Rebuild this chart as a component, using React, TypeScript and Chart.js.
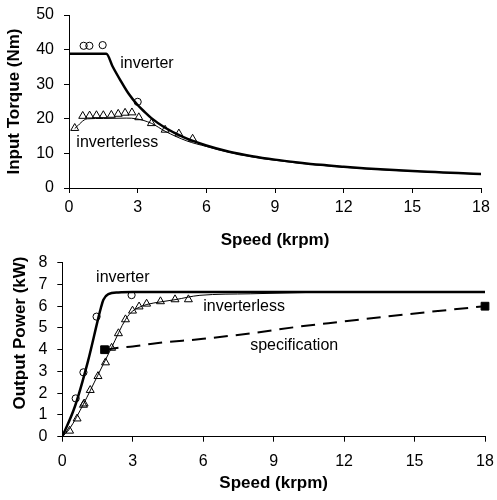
import React, { useEffect, useRef } from 'react';
import { Chart, registerables } from 'chart.js';
Chart.register(...registerables);

const FONT = "'Liberation Sans', Arial, sans-serif";
Chart.defaults.font.family = FONT;
Chart.defaults.color = '#000';

// ---------- Top chart: input torque ----------
const torqueInvSpeed = [0, 1.63, 1.9, 2.24, 2.6, 2.97, 3.3, 3.6, 4.2, 5.0, 6, 7, 8, 9, 10, 11, 12, 13, 14, 15, 16, 17, 18];
const torqueInv = [38.8, 38.8, 35.2, 31.2, 27.3, 24.2, 22.0, 20.2, 17.4, 14.7, 12.3, 10.5, 9.2, 8.2, 7.4, 6.7, 6.15, 5.65, 5.25, 4.9, 4.6, 4.3, 4.05];
const torqueLessSpeed = [0.25, 0.8, 1.5, 2.5, 2.95, 3.6, 4.2, 5.15, 6, 7, 8, 9, 10, 12, 14, 16, 18];
const torqueLess = [17.2, 20.0, 20.1, 20.2, 20.0, 18.7, 16.4, 13.6, 12.0, 10.3, 9.0, 8.0, 7.2, 6.0, 5.15, 4.55, 4.0];
const torqueInvMeasSpeed = [0.64, 0.89, 1.47, 3.0];
const torqueInvMeas = [41.1, 41.1, 41.3, 24.9];
const torqueLessMeasSpeed = [0.25, 0.6, 0.9, 1.2, 1.5, 1.85, 2.15, 2.45, 2.75, 3.05, 3.6, 4.2, 4.8, 5.4];
const torqueLessMeas = [17.3, 20.8, 20.9, 21.0, 21.0, 21.1, 21.4, 21.7, 21.8, 20.4, 18.7, 16.8, 15.7, 14.2];

// ---------- Bottom chart: output power ----------
const powerInvSpeed = [0, 0.54, 1.1, 1.53, 1.65, 1.75, 1.96, 2.39, 3.0, 18];
const powerInv = [0, 1.4, 3.5, 5.44, 5.95, 6.3, 6.55, 6.63, 6.65, 6.65];
const powerLessSpeed = [0, 0.3, 0.9, 1.5, 2.1, 2.7, 3.0, 3.3, 3.6, 4.2, 4.8, 5.86, 8, 10, 11.5, 18];
const powerLess = [0, 0.35, 1.5, 2.8, 4.1, 5.4, 5.78, 5.96, 6.08, 6.2, 6.3, 6.5, 6.57, 6.62, 6.65, 6.65];
const powerInvMeasSpeed = [0.57, 0.9, 1.46, 2.95];
const powerInvMeas = [1.76, 2.96, 5.52, 6.51];
const powerLessMeasSpeed = [0.31, 0.63, 0.9, 0.93, 1.19, 1.52, 1.84, 2.1, 2.39, 2.69, 2.99, 3.27, 3.59, 4.18, 4.8, 5.37];
const powerLessMeas = [0.27, 0.83, 1.46, 1.52, 2.14, 2.78, 3.41, 4.08, 4.75, 5.39, 5.79, 5.98, 6.11, 6.22, 6.31, 6.31];
const specSpeed = [1.8, 2.5, 3.0, 4.0, 6.0, 8.0, 10, 12, 14, 16, 18];
const specPower = [4.0, 4.1, 4.15, 4.3, 4.5, 4.75, 5.05, 5.3, 5.55, 5.78, 6.0];
const specMarkSpeed = [1.8, 18];
const specMark = [4.0, 6.0];

const xTicks = [0, 3, 6, 9, 12, 15, 18];
const torqueTicks = [0, 10, 20, 30, 40, 50];
const powerTicks = [0, 1, 2, 3, 4, 5, 6, 7, 8];

const topLabels = [
  { text: 'inverter', x: 2.24, y: 36.1 },
  { text: 'inverterless', x: 0.32, y: 13.0 },
];
const bottomLabels = [
  { text: 'inverter', x: 1.44, y: 7.3 },
  { text: 'inverterless', x: 6.0, y: 5.96 },
  { text: 'specification', x: 8.0, y: 4.17 },
];

function pts(xs: number[], ys: number[]) {
  return xs.map((x, i) => ({ x, y: ys[i] }));
}

function lineDs(xs: number[], ys: number[], width: number, dash: number[] = []) {
  return {
    data: pts(xs, ys),
    showLine: true,
    borderColor: '#000',
    borderWidth: width,
    borderDash: dash,
    pointRadius: 0,
    pointHoverRadius: 0,
    tension: 0,
    cubicInterpolationMode: 'monotone',
    fill: false,
  };
}

function markDs(xs: number[], ys: number[], style: string, radius: number, filled: boolean) {
  return {
    data: pts(xs, ys),
    showLine: false,
    pointStyle: style,
    pointRadius: radius,
    pointHoverRadius: radius,
    pointBorderColor: '#000',
    pointBackgroundColor: filled ? '#000' : 'rgba(0,0,0,0)',
    pointBorderWidth: 1,
    borderColor: '#000',
    backgroundColor: filled ? '#000' : 'rgba(0,0,0,0)',
    clip: false,
  };
}

function makeLabelPlugin(items: { text: string; x: number; y: number }[], yTitle?: { text: string; cx: number; cy: number }) {
  return {
    id: 'textLabels',
    afterDatasetsDraw(chart: any) {
      const { ctx, scales } = chart;
      ctx.save();
      ctx.fillStyle = '#000';
      ctx.font = `16px ${FONT}`;
      ctx.textBaseline = 'middle';
      ctx.textAlign = 'left';
      items.forEach((it) => {
        ctx.fillText(it.text, scales.x.getPixelForValue(it.x), scales.y.getPixelForValue(it.y));
      });
      if (yTitle) {
        ctx.translate(yTitle.cx, yTitle.cy);
        ctx.rotate(-Math.PI / 2);
        ctx.font = `bold 17px ${FONT}`;
        ctx.textAlign = 'center';
        ctx.fillText(yTitle.text, 0, 0);
      }
      ctx.restore();
    },
  };
}

function zeroPad(s: any) {
  s.paddingLeft = 0;
  s.paddingRight = 0;
  s.paddingTop = 0;
  s.paddingBottom = 0;
}

function xScale(tickPad: number, height: number, titlePadBottom: number) {
  return {
    type: 'linear',
    min: 0,
    max: 18,
    afterBuildTicks: (s: any) => { s.ticks = xTicks.map((v) => ({ value: v })); },
    ticks: { font: { size: 16, family: FONT }, color: '#000', padding: tickPad, maxRotation: 0, autoSkip: false },
    grid: { drawOnChartArea: false, drawTicks: true, tickLength: 5, color: '#000', lineWidth: 1 },
    border: { color: '#000', width: 1 },
    title: { display: true, text: 'Speed (krpm)', font: { size: 17, weight: 'bold', family: FONT }, color: '#000', padding: { top: 0, bottom: titlePadBottom } },
    afterFit: (s: any) => { s.height = height; zeroPad(s); },
  };
}

function yScale(max: number, ticks: number[], width: number, title: any) {
  return {
    type: 'linear',
    min: 0,
    max,
    afterBuildTicks: (s: any) => { s.ticks = ticks.map((v) => ({ value: v })); },
    ticks: { font: { size: 16, family: FONT }, color: '#000', padding: 10, autoSkip: false },
    grid: { drawOnChartArea: false, drawTicks: true, tickLength: 5, color: '#000', lineWidth: 1 },
    border: { color: '#000', width: 1 },
    title,
    afterFit: (s: any) => { s.width = width; zeroPad(s); },
  };
}

function topConfig(): any {
  return {
    type: 'scatter',
    data: {
      datasets: [
        lineDs(torqueLessSpeed, torqueLess, 1),
        lineDs(torqueInvSpeed, torqueInv, 2.5),
        markDs(torqueInvMeasSpeed, torqueInvMeas, 'circle', 3.6, false),
        markDs(torqueLessMeasSpeed, torqueLessMeas, 'triangle', 4.6, false),
      ],
    },
    options: {
      animation: false,
      responsive: false,
      events: [],
      layout: { padding: { left: 0, right: 16, top: 15, bottom: 0 } },
      plugins: { legend: { display: false }, tooltip: { enabled: false } },
      scales: {
        x: xScale(5, 64, 1),
        y: yScale(50, torqueTicks, 69, {
          display: true, text: 'Input Torque (Nm)', font: { size: 17, weight: 'bold', family: FONT }, color: '#000', padding: { top: 4, bottom: 0 },
        }),
      },
    },
    plugins: [makeLabelPlugin(topLabels)],
  };
}

function bottomConfig(): any {
  return {
    type: 'scatter',
    data: {
      datasets: [
        lineDs(specSpeed, specPower, 2, [14, 8]),
        lineDs(powerLessSpeed, powerLess, 1),
        lineDs(powerInvSpeed, powerInv, 2.5),
        markDs(powerInvMeasSpeed, powerInvMeas, 'circle', 3.6, false),
        markDs(powerLessMeasSpeed, powerLessMeas, 'triangle', 4.6, false),
        markDs(specMarkSpeed, specMark, 'rect', 5.5, true),
      ],
    },
    options: {
      animation: false,
      responsive: false,
      events: [],
      layout: { padding: { left: 0, right: 12, top: 10.7, bottom: 0 } },
      plugins: { legend: { display: false }, tooltip: { enabled: false } },
      scales: {
        x: xScale(10.7, 63.3, 6),
        y: yScale(8, powerTicks, 62.3, { display: false }),
      },
    },
    plugins: [makeLabelPlugin(bottomLabels, { text: 'Output Power (kW)', cx: 20, cy: 81 })],
  };
}

function Panel({ top, height, config }: { top: number; height: number; config: () => any }) {
  const ref = useRef<HTMLCanvasElement>(null);
  useEffect(() => {
    const chart = new Chart(ref.current as HTMLCanvasElement, config());
    return () => chart.destroy();
  }, []);
  return (
    <canvas
      ref={ref}
      width={497}
      height={height}
      style={{ position: 'absolute', left: 0, top, width: 497, height }}
    />
  );
}

export default function App() {
  return (
    <div style={{ position: 'fixed', left: 0, top: 0, width: 497, height: 500, background: '#fff', overflow: 'hidden' }}>
      <Panel top={0} height={252} config={topConfig} />
      <Panel top={252} height={248} config={bottomConfig} />
    </div>
  );
}
